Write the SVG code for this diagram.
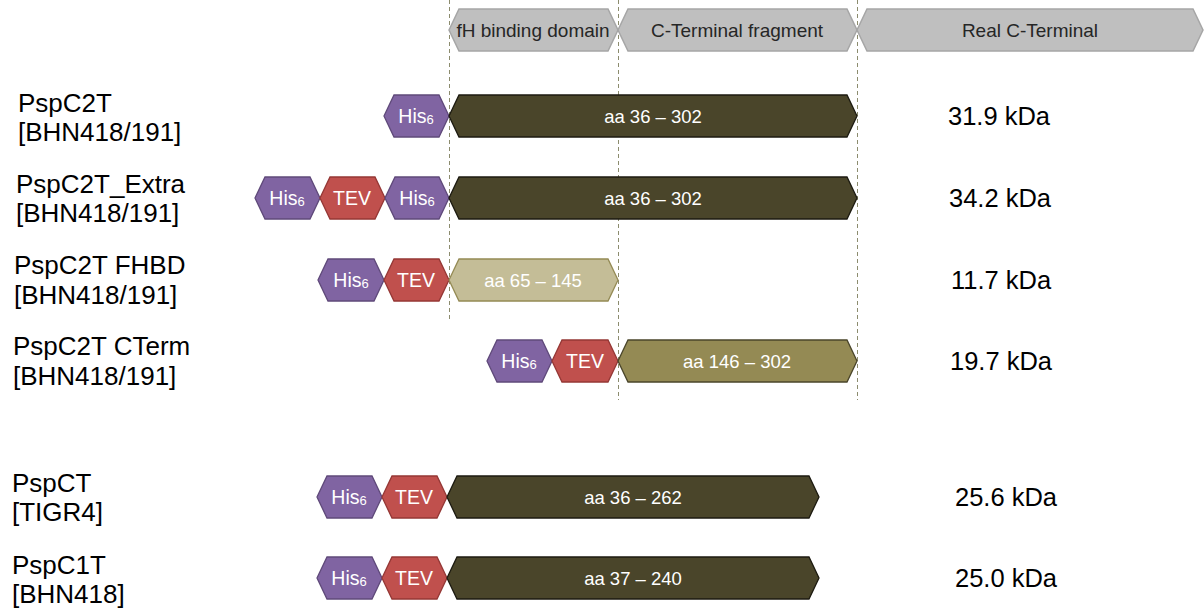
<svg xmlns="http://www.w3.org/2000/svg" width="1204" height="608" viewBox="0 0 1204 608">
<style>
text{font-family:"Liberation Sans",Arial,sans-serif}
.hdr{fill:#BFBFBF;stroke:#A6A6A6;stroke-width:1.5}
.hdrt{font-size:19px;fill:#262626;text-anchor:middle}
.his{fill:#8064A2;stroke:#5F497A;stroke-width:1.3}
.tev{fill:#C0504D;stroke:#953735;stroke-width:1.3}
.dark{fill:#4A452A;stroke:#1C1A10;stroke-width:1.3}
.tan{fill:#C4BD97;stroke:#948A54;stroke-width:1.3}
.olive{fill:#948A54;stroke:#4A452A;stroke-width:1.3}
.wt{fill:#FFFFFF;font-size:18.5px;text-anchor:middle}
.tag{fill:#FFFFFF;font-size:19.5px;text-anchor:middle}
.sub{font-size:13px}
.lbl{fill:#000000;font-size:26px}
.kda{fill:#000000;font-size:25.5px;text-anchor:middle}
.dash{stroke:#8C8C6E;stroke-width:1;stroke-dasharray:4,3;fill:none}
</style>

<g id="guides">
<line class="dash" x1="449.5" y1="0" x2="449.5" y2="322"/>
<line class="dash" x1="618.5" y1="0" x2="618.5" y2="400"/>
<line class="dash" x1="857.5" y1="0" x2="857.5" y2="400"/>
</g>

<g id="header-fh">
<polygon class="hdr" points="449,30 459,9 608,9 618,30 608,51 459,51"/>
<text class="hdrt" x="533" y="37">fH binding domain</text>
</g>
<g id="header-cterm-frag">
<polygon class="hdr" points="618,30 628,9 847,9 857,30 847,51 628,51"/>
<text class="hdrt" x="737" y="37">C-Terminal fragment</text>
</g>
<g id="header-real-cterm">
<polygon class="hdr" points="857,30 867,9 1193,9 1203,30 1193,51 867,51"/>
<text class="hdrt" x="1030" y="37">Real C-Terminal</text>
</g>

<g id="row-pspc2t">
<text class="lbl" x="18" y="112">PspC2T</text>
<text class="lbl" x="18" y="141">[BHN418/191]</text>
<polygon class="his" points="384,116 394,95 439,95 449,116 439,137 394,137"/>
<text class="tag" x="416" y="123">His<tspan class="sub" dy="1">6</tspan></text>
<polygon class="dark" points="449,116 459,95 847,95 857,116 847,137 459,137"/>
<text class="wt" x="653" y="123">aa 36 – 302</text>
<text class="kda" x="999" y="125">31.9 kDa</text>
</g>

<g id="row-pspc2t-extra">
<text class="lbl" x="16" y="193">PspC2T_Extra</text>
<text class="lbl" x="16" y="222">[BHN418/191]</text>
<polygon class="his" points="255,198 265,177 310,177 320,198 310,219 265,219"/>
<text class="tag" x="287" y="205">His<tspan class="sub" dy="1">6</tspan></text>
<polygon class="tev" points="320,198 330,177 375,177 385,198 375,219 330,219"/>
<text class="tag" x="352" y="205">TEV</text>
<polygon class="his" points="385,198 395,177 439,177 449,198 439,219 395,219"/>
<text class="tag" x="417" y="205">His<tspan class="sub" dy="1">6</tspan></text>
<polygon class="dark" points="449,198 459,177 847,177 857,198 847,219 459,219"/>
<text class="wt" x="653" y="205">aa 36 – 302</text>
<text class="kda" x="1000" y="207">34.2 kDa</text>
</g>

<g id="row-pspc2t-fhbd">
<text class="lbl" x="14" y="274">PspC2T FHBD</text>
<text class="lbl" x="14" y="304">[BHN418/191]</text>
<polygon class="his" points="318,280 328,259 374,259 384,280 374,301 328,301"/>
<text class="tag" x="351" y="287">His<tspan class="sub" dy="1">6</tspan></text>
<polygon class="tev" points="384,280 394,259 439,259 449,280 439,301 394,301"/>
<text class="tag" x="416" y="287">TEV</text>
<polygon class="tan" points="449,280 459,259 608,259 618,280 608,301 459,301"/>
<text class="wt" x="533" y="287">aa 65 – 145</text>
<text class="kda" x="1001" y="289">11.7 kDa</text>
</g>

<g id="row-pspc2t-cterm">
<text class="lbl" x="13" y="355">PspC2T CTerm</text>
<text class="lbl" x="13" y="385">[BHN418/191]</text>
<polygon class="his" points="487,361 497,340 542,340 552,361 542,382 497,382"/>
<text class="tag" x="519" y="368">His<tspan class="sub" dy="1">6</tspan></text>
<polygon class="tev" points="552,361 562,340 608,340 618,361 608,382 562,382"/>
<text class="tag" x="585" y="368">TEV</text>
<polygon class="olive" points="618,361 628,340 847,340 857,361 847,382 628,382"/>
<text class="wt" x="737" y="368">aa 146 – 302</text>
<text class="kda" x="1001" y="370">19.7 kDa</text>
</g>

<g id="row-pspct">
<text class="lbl" x="12" y="492">PspCT</text>
<text class="lbl" x="12" y="521">[TIGR4]</text>
<polygon class="his" points="317,497 327,476 372,476 382,497 372,518 327,518"/>
<text class="tag" x="349" y="504">His<tspan class="sub" dy="1">6</tspan></text>
<polygon class="tev" points="382,497 392,476 437,476 447,497 437,518 392,518"/>
<text class="tag" x="414" y="504">TEV</text>
<polygon class="dark" points="447,497 457,476 809,476 819,497 809,518 457,518"/>
<text class="wt" x="633" y="504">aa 36 – 262</text>
<text class="kda" x="1006" y="506">25.6 kDa</text>
</g>

<g id="row-pspc1t">
<text class="lbl" x="12" y="574">PspC1T</text>
<text class="lbl" x="12" y="603">[BHN418]</text>
<polygon class="his" points="317,578 327,557 372,557 382,578 372,599 327,599"/>
<text class="tag" x="349" y="585">His<tspan class="sub" dy="1">6</tspan></text>
<polygon class="tev" points="382,578 392,557 437,557 447,578 437,599 392,599"/>
<text class="tag" x="414" y="585">TEV</text>
<polygon class="dark" points="447,578 457,557 809,557 819,578 809,599 457,599"/>
<text class="wt" x="633" y="585">aa 37 – 240</text>
<text class="kda" x="1006" y="587">25.0 kDa</text>
</g>
</svg>
